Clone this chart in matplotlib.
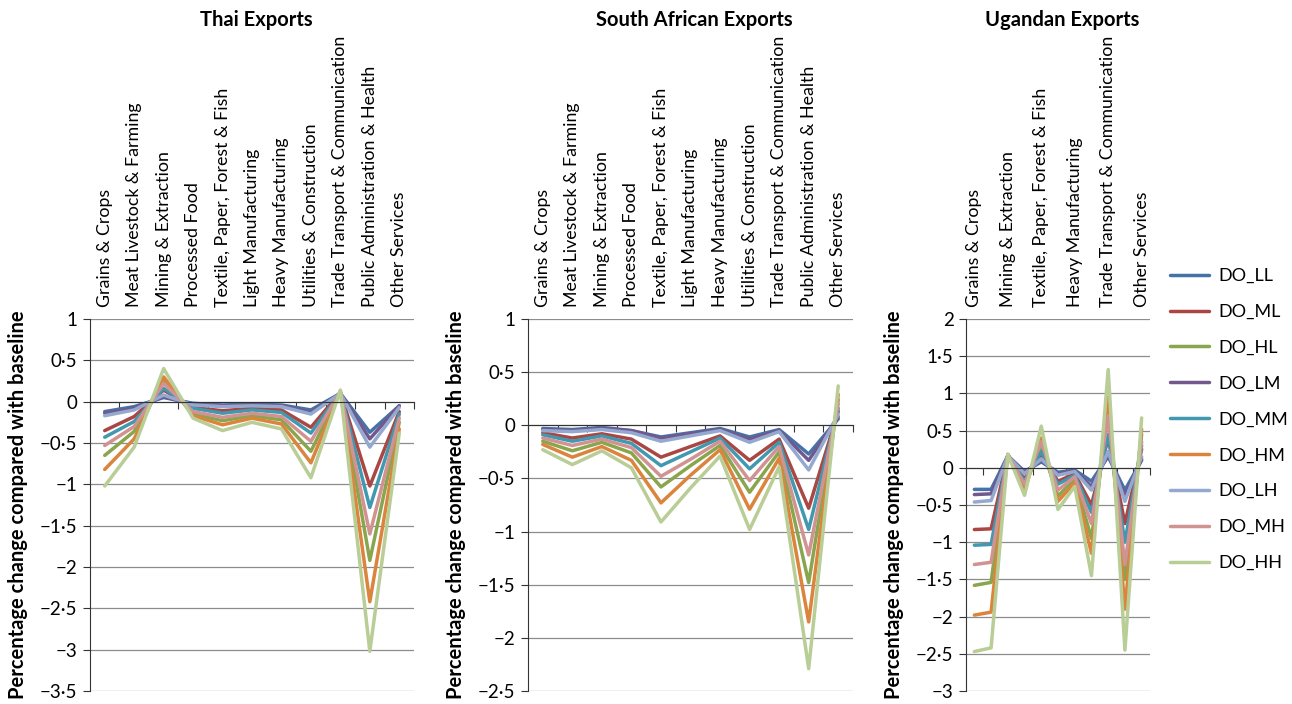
import matplotlib
matplotlib.use("Agg")
import matplotlib.pyplot as plt
import matplotlib.ticker as mticker
import numpy as np

plt.rcParams["font.family"] = ["Lato", "DejaVu Sans"]

CATEGORIES = [
    "Grains & Crops", "Meat Livestock & Farming", "Mining & Extraction",
    "Processed Food", "Textile, Paper, Forest & Fish", "Light Manufacturing",
    "Heavy Manufacturing", "Utilities & Construction",
    "Trade Transport & Communication", "Public Administration & Health",
    "Other Services",
]
SERIES = ["DO_LL", "DO_ML", "DO_HL", "DO_LM", "DO_MM", "DO_HM", "DO_LH", "DO_MH", "DO_HH"]
COLOURS = ["#4572A7", "#AA4643", "#89A54E", "#71588F", "#4198AF",
           "#DB843D", "#93A9CF", "#D19392", "#B9CD96"]

# one row per series, one column per category
thai = [
    [-0.12, -0.06, 0.05, -0.02, -0.04, -0.03, -0.04, -0.10, 0.10, -0.37, -0.05],
    [-0.35, -0.18, 0.14, -0.07, -0.11, -0.08, -0.10, -0.31, 0.11, -1.02, -0.12],
    [-0.65, -0.36, 0.27, -0.15, -0.23, -0.17, -0.22, -0.60, 0.12, -1.92, -0.25],
    [-0.14, -0.08, 0.06, -0.03, -0.05, -0.04, -0.05, -0.13, 0.10, -0.45, -0.05],
    [-0.43, -0.24, 0.16, -0.08, -0.14, -0.10, -0.13, -0.38, 0.11, -1.28, -0.15],
    [-0.82, -0.45, 0.30, -0.17, -0.28, -0.20, -0.27, -0.74, 0.13, -2.42, -0.33],
    [-0.17, -0.10, 0.08, -0.04, -0.06, -0.05, -0.06, -0.15, 0.10, -0.55, -0.07],
    [-0.53, -0.30, 0.22, -0.12, -0.19, -0.14, -0.18, -0.48, 0.12, -1.60, -0.20],
    [-1.02, -0.55, 0.40, -0.20, -0.35, -0.25, -0.33, -0.92, 0.14, -3.02, -0.38],
]
south_africa = [
    [-0.03, -0.04, -0.02, -0.05, -0.11, -0.07, -0.03, -0.11, -0.04, -0.27, 0.06],
    [-0.07, -0.12, -0.08, -0.13, -0.30, -0.20, -0.10, -0.33, -0.13, -0.78, 0.13],
    [-0.15, -0.24, -0.16, -0.26, -0.58, -0.38, -0.19, -0.63, -0.25, -1.48, 0.24],
    [-0.04, -0.05, -0.03, -0.05, -0.12, -0.08, -0.04, -0.13, -0.05, -0.33, 0.08],
    [-0.09, -0.15, -0.10, -0.17, -0.38, -0.25, -0.12, -0.41, -0.16, -0.98, 0.16],
    [-0.18, -0.30, -0.20, -0.33, -0.73, -0.47, -0.23, -0.79, -0.31, -1.85, 0.29],
    [-0.05, -0.06, -0.04, -0.07, -0.15, -0.10, -0.05, -0.16, -0.06, -0.42, 0.10],
    [-0.12, -0.19, -0.13, -0.21, -0.48, -0.32, -0.15, -0.52, -0.20, -1.22, 0.20],
    [-0.23, -0.37, -0.24, -0.40, -0.91, -0.59, -0.29, -0.98, -0.39, -2.29, 0.37],
]
uganda = [
    [-0.29, -0.29, 0.16, -0.05, 0.08, -0.06, -0.03, -0.18, 0.15, -0.30, 0.10],
    [-0.83, -0.82, 0.17, -0.15, 0.18, -0.18, -0.08, -0.50, 0.40, -0.75, 0.25],
    [-1.58, -1.54, 0.18, -0.25, 0.30, -0.38, -0.15, -0.95, 0.75, -1.50, 0.45],
    [-0.36, -0.35, 0.16, -0.06, 0.10, -0.08, -0.04, -0.25, 0.18, -0.38, 0.12],
    [-1.04, -1.03, 0.17, -0.18, 0.22, -0.22, -0.10, -0.60, 0.45, -1.00, 0.30],
    [-1.98, -1.94, 0.18, -0.30, 0.40, -0.45, -0.20, -1.15, 0.95, -1.90, 0.52],
    [-0.46, -0.44, 0.16, -0.08, 0.12, -0.10, -0.05, -0.30, 0.22, -0.45, 0.15],
    [-1.30, -1.27, 0.17, -0.22, 0.35, -0.30, -0.12, -0.75, 0.70, -1.30, 0.35],
    [-2.47, -2.42, 0.18, -0.37, 0.56, -0.56, -0.25, -1.45, 1.32, -2.45, 0.67],
]

W, H = 1292, 704


def fmt(v, pos):
    s = f"{v:g}"
    return s.replace("-", "\u2212").replace(".", "\u00b7")


def panel(left_px, right_px, values, title, ylim, label_step):
    top_px, bottom_px = 319, 691
    ax = fig.add_axes([left_px / W, 1 - bottom_px / H,
                       (right_px - left_px) / W, (bottom_px - top_px) / H])
    x = np.arange(len(CATEGORIES))
    for row, name, col in zip(values, SERIES, COLOURS):
        ax.plot(x, row, color=col, lw=2.5, label=name, solid_capstyle="round",
                solid_joinstyle="round")

    ax.set_xlim(-0.5, len(CATEGORIES) - 0.5)
    ax.set_ylim(*ylim)
    ax.yaxis.set_major_locator(mticker.MultipleLocator(0.5))
    ax.yaxis.set_major_formatter(mticker.FuncFormatter(fmt))
    ax.grid(axis="y", color="#8c8c8c", lw=0.9)
    ax.set_axisbelow(True)

    for side in ("top", "right"):
        ax.spines[side].set_visible(False)
    ax.spines["left"].set_color("#333333")
    ax.spines["bottom"].set_position(("data", 0))
    ax.spines["bottom"].set_color("#333333")
    ax.set_xticks(np.arange(len(CATEGORIES) + 1) - 0.5)
    ax.set_xticklabels([])
    ax.tick_params(axis="x", direction="out", length=5, color="#333333")
    ax.tick_params(axis="y", direction="out", length=5, color="#333333",
                   labelsize=13.5, pad=4)

    y_lab = 1 + 12 / (bottom_px - top_px)
    for i, cat in enumerate(CATEGORIES):
        if i % label_step:
            continue
        ax.text(i, y_lab, cat, transform=ax.get_xaxis_transform(),
                rotation=90, ha="center", va="bottom", fontsize=12.8)

    cx = (left_px + right_px) / 2 / W
    fig.text(cx + 4 / W, 1 - 20 / H, title, ha="center", va="center",
             fontsize=14.5, fontweight="bold")
    fig.text((left_px - 72) / W, 1 - (top_px + bottom_px) / 2 / H,
             "Percentage change compared with baseline", rotation=90,
             ha="center", va="center", fontsize=14.5, fontweight="bold")
    return ax


fig = plt.figure(figsize=(W / 100, H / 100), dpi=100)
panel(90, 414, thai, "Thai Exports", (-3.5, 1), 1)
panel(528, 853, south_africa, "South African Exports", (-2.5, 1), 1)
ax_u = panel(966, 1150, uganda, "Ugandan Exports", (-3, 2), 2)

handles, labels = ax_u.get_legend_handles_labels()
fig.legend(handles, labels, loc="upper left", bbox_to_anchor=(1170 / W, 1 - 268 / H),
           frameon=False, fontsize=13, handlelength=2.15, labelspacing=1.1,
           handletextpad=0.55, borderpad=0, borderaxespad=0)

fig.savefig("out.png", dpi=100)
